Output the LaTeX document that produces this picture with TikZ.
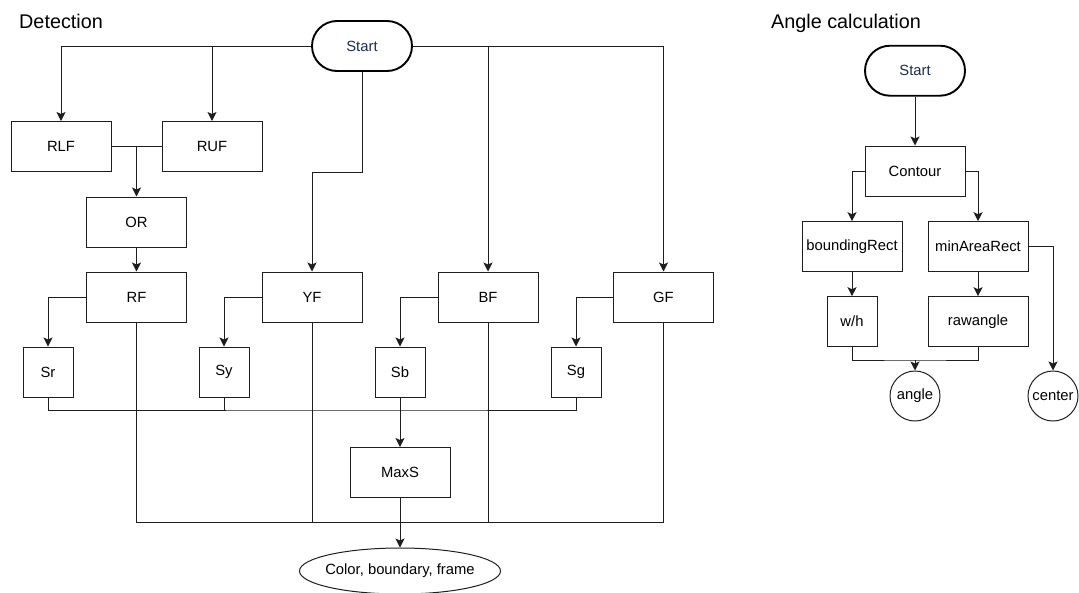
\documentclass[tikz,border=0pt]{standalone}
\usepackage{fontspec}
\setmainfont{Liberation Sans}
\usetikzlibrary{arrows.meta,shapes.misc,shapes.geometric}
\definecolor{startblue}{RGB}{28,45,75}
\definecolor{linec}{RGB}{30,30,30}
\tikzset{
  box/.style={draw=linec, line width=1pt, rectangle, minimum width=100pt, minimum height=50pt, inner sep=0pt, font=\fontsize{14.8}{17}\selectfont},
  sbox/.style={box, minimum width=50pt},
  startpill/.style={draw=black, line width=1.9pt, rounded rectangle, minimum width=100pt, minimum height=50pt, inner sep=0pt, text=startblue, font=\fontsize{14.8}{17}\selectfont},
  endell/.style={draw=linec, line width=1pt, ellipse, minimum width=201pt, minimum height=46pt, inner xsep=-30pt, inner ysep=0pt, font=\fontsize{14.8}{17}\selectfont},
  circ/.style={draw=linec, line width=1pt, circle, minimum size=50pt, inner sep=0pt, font=\fontsize{14.8}{17}\selectfont},
  ttl/.style={anchor=base west, inner sep=0pt, font=\fontsize{19.8}{23}\selectfont},
  conn/.style={draw=linec, line width=1pt},
  arr/.style={conn, -{Stealth[length=9pt, width=9pt, inset=2pt]}}
}
\begin{document}
\begin{tikzpicture}[x=1pt,y=-1pt]
\useasboundingbox (0,0) rectangle (1079,592);
% titles
\node[ttl] (t1) at (19,28) {Detection};
\node[ttl] (t2) at (771,28) {Angle calculation};
% detection nodes
\node[startpill] (start) at (362,46) {Start};
\node[box] (rlf) at (61,146.5) {RLF};
\node[box] (ruf) at (212,146.5) {RUF};
\node[box] (or) at (136.5,222) {OR};
\node[box] (rf) at (136.5,297) {RF};
\node[box] (yf) at (312,297) {YF};
\node[box] (bf) at (488,297) {BF};
\node[box] (gf) at (663.5,297) {GF};
\node[sbox] (sr) at (48,372) {Sr};
\node[sbox] (sy) at (224,372) {Sy};
\node[sbox] (sb) at (400,372) {Sb};
\node[sbox] (sg) at (576,372) {Sg};
\node[box] (maxs) at (400,472.5) {MaxS};
\node[endell] (out) at (400,571) {Color, boundary, frame};
\coordinate (sbus) at (400,410);
\coordinate (bus) at (400,522.7);
% detection connectors
\draw[arr] (start.west) -| (rlf.north);
\draw[arr] (start.west -| ruf.north) -- (ruf.north);
\draw[arr] (start.east) -| (gf.north);
\draw[arr] (start.east -| bf.north) -- (bf.north);
\draw[arr] (start.south) -- (start.south |- ruf.south) -| (yf.north);
\draw[conn] (rlf.east) -- (ruf.west);
\draw[arr] (or.north |- rlf.east) -- (or.north);
\draw[arr] (or.south) -- (rf.north);
\draw[arr] (rf.west) -| (sr.north);
\draw[arr] (yf.west) -| (sy.north);
\draw[arr] (bf.west) -| (sb.north);
\draw[arr] (gf.west) -| (sg.north);
\draw[conn] (sr.south) |- (sbus) -| (sg.south);
\draw[conn] (sy.south) -- (sy.south |- sbus);
\draw[arr] (sb.south) -- (maxs.north);
\draw[conn] (rf.south) |- (bus) -| (gf.south);
\draw[conn] (yf.south) -- (yf.south |- bus);
\draw[conn] (bf.south) -- (bf.south |- bus);
\draw[arr] (maxs.south) -- (out.north);
% angle calculation nodes
\node[startpill] (start2) at (915,70.7) {Start};
\node[box] (cont) at (915,171) {Contour};
\node[box] (br) at (852,246.7) {boundingRect};
\node[box] (mar) at (978,246.7) {minAreaRect};
\node[sbox] (wh) at (852,321.7) {w/h};
\node[box] (raw) at (978,321.7) {rawangle};
\node[circ] (ang) at (915,396) {angle};
\node[circ] (cen) at (1053,396) {center};
\coordinate (jn) at (915,360);
% angle connectors
\draw[arr] (start2.south) -- (cont.north);
\draw[arr] (cont.west) -| (br.north);
\draw[arr] (cont.east) -| (mar.north);
\draw[arr] (br.south) -- (wh.north);
\draw[arr] (mar.south) -- (raw.north);
\draw[conn] (wh.south) |- (jn) -| (raw.south);
\draw[arr] (jn) -- (ang.north);
\draw[arr] (mar.east) -| (cen.north);
\end{tikzpicture}
\end{document}
